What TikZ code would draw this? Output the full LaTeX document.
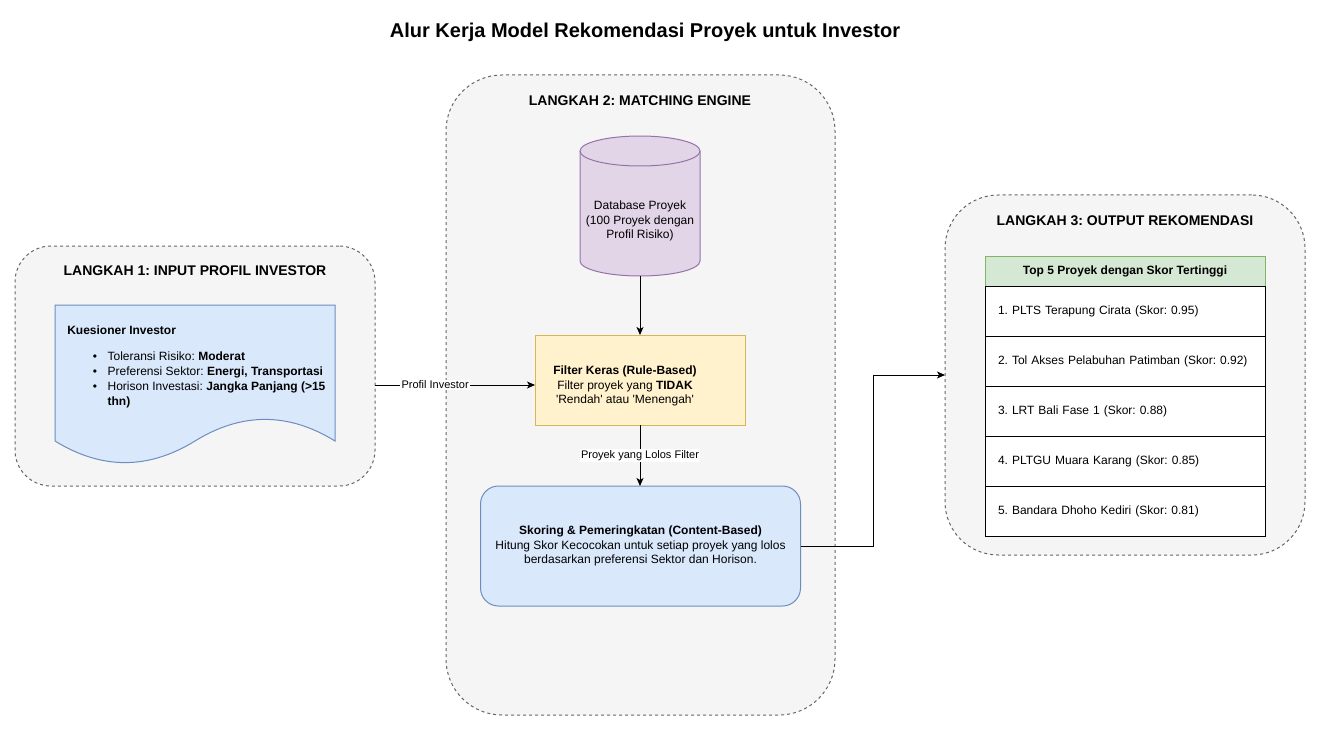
\documentclass[tikz,border=0pt]{standalone}
\usepackage{fontspec}
\setmainfont{Liberation Sans}
\usetikzlibrary{arrows.meta,calc}
\definecolor{cfill}{HTML}{F5F5F5}
\definecolor{cdraw}{HTML}{666666}
\definecolor{bluefill}{HTML}{DAE8FC}
\definecolor{bluedraw}{HTML}{6C8EBF}
\definecolor{purfill}{HTML}{E1D5E7}
\definecolor{purdraw}{HTML}{9673A6}
\definecolor{yelfill}{HTML}{FFF2CC}
\definecolor{yeldraw}{HTML}{D6B656}
\definecolor{grnfill}{HTML}{D5E8D4}
\definecolor{grndraw}{HTML}{82B366}
\frenchspacing
\begin{document}
\begin{tikzpicture}[x=0.75pt,y=-0.75pt,
  container/.style={draw=cdraw, fill=cfill, dash pattern=on 2.25pt off 2.25pt, line width=0.75pt, inner sep=0pt, outer sep=0pt},
  ctitle/.style={font=\fontsize{10.5}{12.6}\selectfont\bfseries, inner sep=0pt},
  body/.style={font=\fontsize{9}{10.8}\selectfont, inner sep=0pt},
  elabel/.style={font=\fontsize{8.25}{9.9}\selectfont, fill=white, inner sep=1pt},
  conn/.style={draw=black, line width=0.75pt, -{Stealth[length=6pt,width=5.25pt,inset=1.5pt]}},
  row/.style={draw=black, fill=white, line width=0.75pt, minimum height=37.5pt, text width=190.5pt, inner xsep=9.75pt, inner ysep=0pt, align=left, font=\fontsize{9}{10.8}\selectfont, outer sep=0pt},
]
\useasboundingbox (0,0) rectangle (1321,731);
\fill[white] (0,0) rectangle (1321,731);

% title
\node[font=\fontsize{15}{18}\selectfont\bfseries, inner sep=0pt] (title) at (645,32) {Alur Kerja Model Rekomendasi Proyek untuk Investor};

% containers
\node[container, rounded corners=27pt, minimum width=270pt, minimum height=180pt] (c1) at (195,366) {};
\node[container, rounded corners=42pt, minimum width=291.75pt, minimum height=480pt] (c2) at (640.5,395) {};
\node[container, rounded corners=40pt, minimum width=270pt, minimum height=270pt] (c3) at (1125,375) {};

\node[ctitle] (c1t) at (195,271) {LANGKAH 1: INPUT PROFIL INVESTOR};
\node[ctitle] (c2t) at (640,101) {LANGKAH 2: MATCHING ENGINE};
\node[ctitle] (c3t) at (1125,221) {LANGKAH 3: OUTPUT REKOMENDASI};

% document shape
\node[inner sep=0pt, outer sep=0pt, minimum width=210pt, minimum height=120pt] (doc) at (195,385) {};
\filldraw[fill=bluefill, draw=bluedraw, line width=0.75pt]
  (55,305) -- (335,305) -- (335,441)
  .. controls (288.33,412.2) and (241.67,412.2) .. (195,441)
  .. controls (148.33,469.8) and (101.67,469.8) .. (55,441) -- cycle;
\node[body, font=\fontsize{9}{10.8}\selectfont\bfseries, anchor=west] (kq) at (67,330) {Kuesioner Investor};
\node[body, font=\fontsize{9}{11.25}\selectfont, anchor=base west] (bl) at (92.5,360) {%
  \begin{tabular}[t]{@{}l@{\hspace{8pt}}l@{}}
  \textbullet & Toleransi Risiko: \textbf{Moderat}\\
  \textbullet & Preferensi Sektor: \textbf{Energi, Transportasi}\\
  \textbullet & Horison Investasi: \textbf{Jangka Panjang (>15}\\
   & \textbf{thn)}
  \end{tabular}};

% cylinder
\filldraw[fill=purfill, draw=purdraw, line width=0.75pt]
  (580,151) -- (580,261)
  .. controls (580,269.28) and (606.86,276) .. (640,276)
  .. controls (673.14,276) and (700,269.28) .. (700,261)
  -- (700,151)
  .. controls (700,142.72) and (673.14,136) .. (640,136)
  .. controls (606.86,136) and (580,142.72) .. (580,151) -- cycle;
\draw[draw=purdraw, line width=0.75pt]
  (580,151) .. controls (580,159.28) and (606.86,166) .. (640,166)
  .. controls (673.14,166) and (700,159.28) .. (700,151);
\node[body, align=center, minimum width=90pt, minimum height=82.5pt, outer sep=0pt] (db) at (640,221) {Database Proyek\\(100 Proyek dengan\\Profil Risiko)};

% filter
\node[draw=yeldraw, fill=yelfill, line width=0.75pt, minimum width=157.5pt, minimum height=67.5pt, inner sep=0pt, outer sep=0pt] (f) at (640,380) {};
\node[body, align=center] (ft) at (625,386) {\textbf{Filter Keras (Rule-Based)}\\Filter proyek yang \textbf{TIDAK}\\\textquotesingle Rendah\textquotesingle{} atau \textquotesingle Menengah\textquotesingle};

% scoring
\node[draw=bluedraw, fill=bluefill, line width=0.75pt, rounded corners=13.5pt, minimum width=240pt, minimum height=90pt, inner sep=0pt, outer sep=0pt, align=center, font=\fontsize{9}{10.8}\selectfont] (s) at (640.5,546) {\textbf{Skoring \& Pemeringkatan (Content-Based)}\\Hitung Skor Kecocokan untuk setiap proyek yang lolos\\berdasarkan preferensi Sektor dan Horison.};

% table
\node[draw=grndraw, fill=grnfill, line width=0.75pt, minimum width=210pt, minimum height=22.5pt, inner sep=0pt, outer sep=0pt, font=\fontsize{9}{10.8}\selectfont\bfseries] (th) at (1125,271) {Top 5 Proyek dengan Skor Tertinggi};
\node[row] (r1) at (1125,311) {1. PLTS Terapung Cirata (Skor: 0.95)};
\node[row] (r2) at (1125,361) {2. Tol Akses Pelabuhan Patimban (Skor: 0.92)};
\node[row] (r3) at (1125,411) {3. LRT Bali Fase 1 (Skor: 0.88)};
\node[row] (r4) at (1125,461) {4. PLTGU Muara Karang (Skor: 0.85)};
\node[row] (r5) at (1125,511) {5. Bandara Dhoho Kediri (Skor: 0.81)};

% connectors
\draw[conn] (db.south) -- (f.north);
\draw[conn] (f.south) -- node[elabel] {Proyek yang Lolos Filter} (f.south |- s.north);
\draw[conn] (c1.east |- doc.east) -- node[elabel, pos=0.376] {Profil Investor} (f.west |- doc.east);
\draw[conn] (s.east) -- ++(73,0) |- (c3.west);
\end{tikzpicture}
\end{document}
